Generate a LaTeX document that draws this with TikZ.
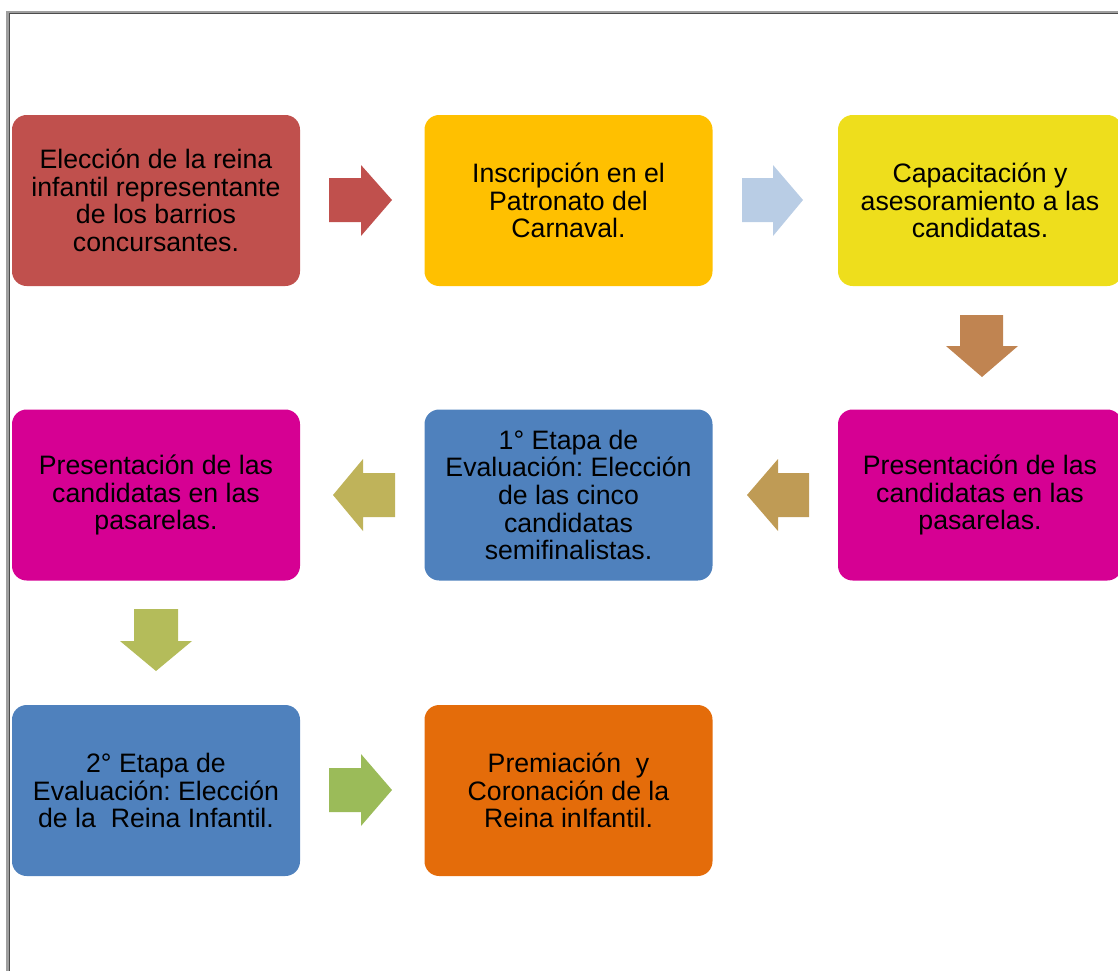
\documentclass[tikz,border=0pt]{standalone}
\usepackage{fontspec}
\setmainfont{Liberation Sans}
\frenchspacing
\definecolor{cRed}{HTML}{C0504D}
\definecolor{cGold}{HTML}{FFC000}
\definecolor{cYel}{HTML}{EEDE1C}
\definecolor{cMag}{HTML}{D60093}
\definecolor{cBlue}{HTML}{4F81BD}
\definecolor{cOra}{HTML}{E46C0A}
\definecolor{aBlue}{HTML}{B9CDE5}
\definecolor{aBrown}{HTML}{C08451}
\definecolor{aTan}{HTML}{BF9B55}
\definecolor{aOlive}{HTML}{BFB35A}
\definecolor{aLime}{HTML}{B4BC5A}
\definecolor{aGreen}{HTML}{9BBB59}
\tikzset{
  stepbox/.style={rounded corners=11pt, minimum width=216pt, minimum height=128.25pt,
    inner sep=0pt, align=center, text=black,
    font=\fontsize{20pt}{20.7pt}\selectfont\frenchspacing},
}
\begin{document}
\begin{tikzpicture}[x=0.75pt,y=-0.75pt]
\useasboundingbox (0,0) rectangle (1118,971);
% frame
\draw[gray!75, line width=2.25pt] (7.5,971) -- (7.5,12) -- (1118,12);
\draw[black!70, line width=0.6pt] (9,971) -- (9,13.5) -- (1118,13.5);
% boxes
\node[stepbox, fill=cRed] (b1) at (156,200.5) {Elección de la reina\\infantil representante\\de los barrios\\concursantes.};
\node[stepbox, fill=cGold] (b2) at (568.5,200.5) {Inscripción en el\\Patronato del\\Carnaval.};
\node[stepbox, fill=cYel, minimum width=213pt] (b3) at (980,200.5) {Capacitación y\\asesoramiento a las\\candidatas.};
\node[stepbox, fill=cMag, minimum width=213pt] (b4) at (980,495) {Presentación de las\\candidatas en las\\pasarelas.};
\node[stepbox, fill=cBlue] (b5) at (568.5,495) {1° Etapa de\\Evaluación: Elección\\de las cinco\\candidatas\\semifinalistas.};
\node[stepbox, fill=cMag] (b6) at (156,495) {Presentación de las\\candidatas en las\\pasarelas.};
\node[stepbox, fill=cBlue] (b7) at (156,790.5) {2° Etapa de\\Evaluación: Elección\\de la\ \ Reina Infantil.};
\node[stepbox, fill=cOra] (b8) at (568.5,790.5) {Premiación\ \ y\\Coronación de la\\Reina inIfantil.};
% block arrows
\fill[cRed] (329,178) -- (361,178) -- (361,165) -- (392,200) -- (361,236) -- (361,222) -- (329,222) -- cycle;
\fill[aBlue] (742,178) -- (773,178) -- (773,165) -- (803,200) -- (773,236) -- (773,222) -- (742,222) -- cycle;
\fill[aBrown] (960,315) -- (1003,315) -- (1003,346) -- (1018,346) -- (982,377) -- (946,346) -- (960,346) -- cycle;
\fill[aTan] (809,473) -- (778,473) -- (778,459) -- (747,495) -- (778,531) -- (778,517) -- (809,517) -- cycle;
\fill[aOlive] (395,473) -- (363,473) -- (363,459) -- (333,495) -- (363,531) -- (363,517) -- (395,517) -- cycle;
\fill[aLime] (134,609) -- (178,609) -- (178,641) -- (192,641) -- (156,671) -- (120,641) -- (134,641) -- cycle;
\fill[aGreen] (329,768) -- (361,768) -- (361,754) -- (392,790) -- (361,826) -- (361,812) -- (329,812) -- cycle;
\end{tikzpicture}
\end{document}
